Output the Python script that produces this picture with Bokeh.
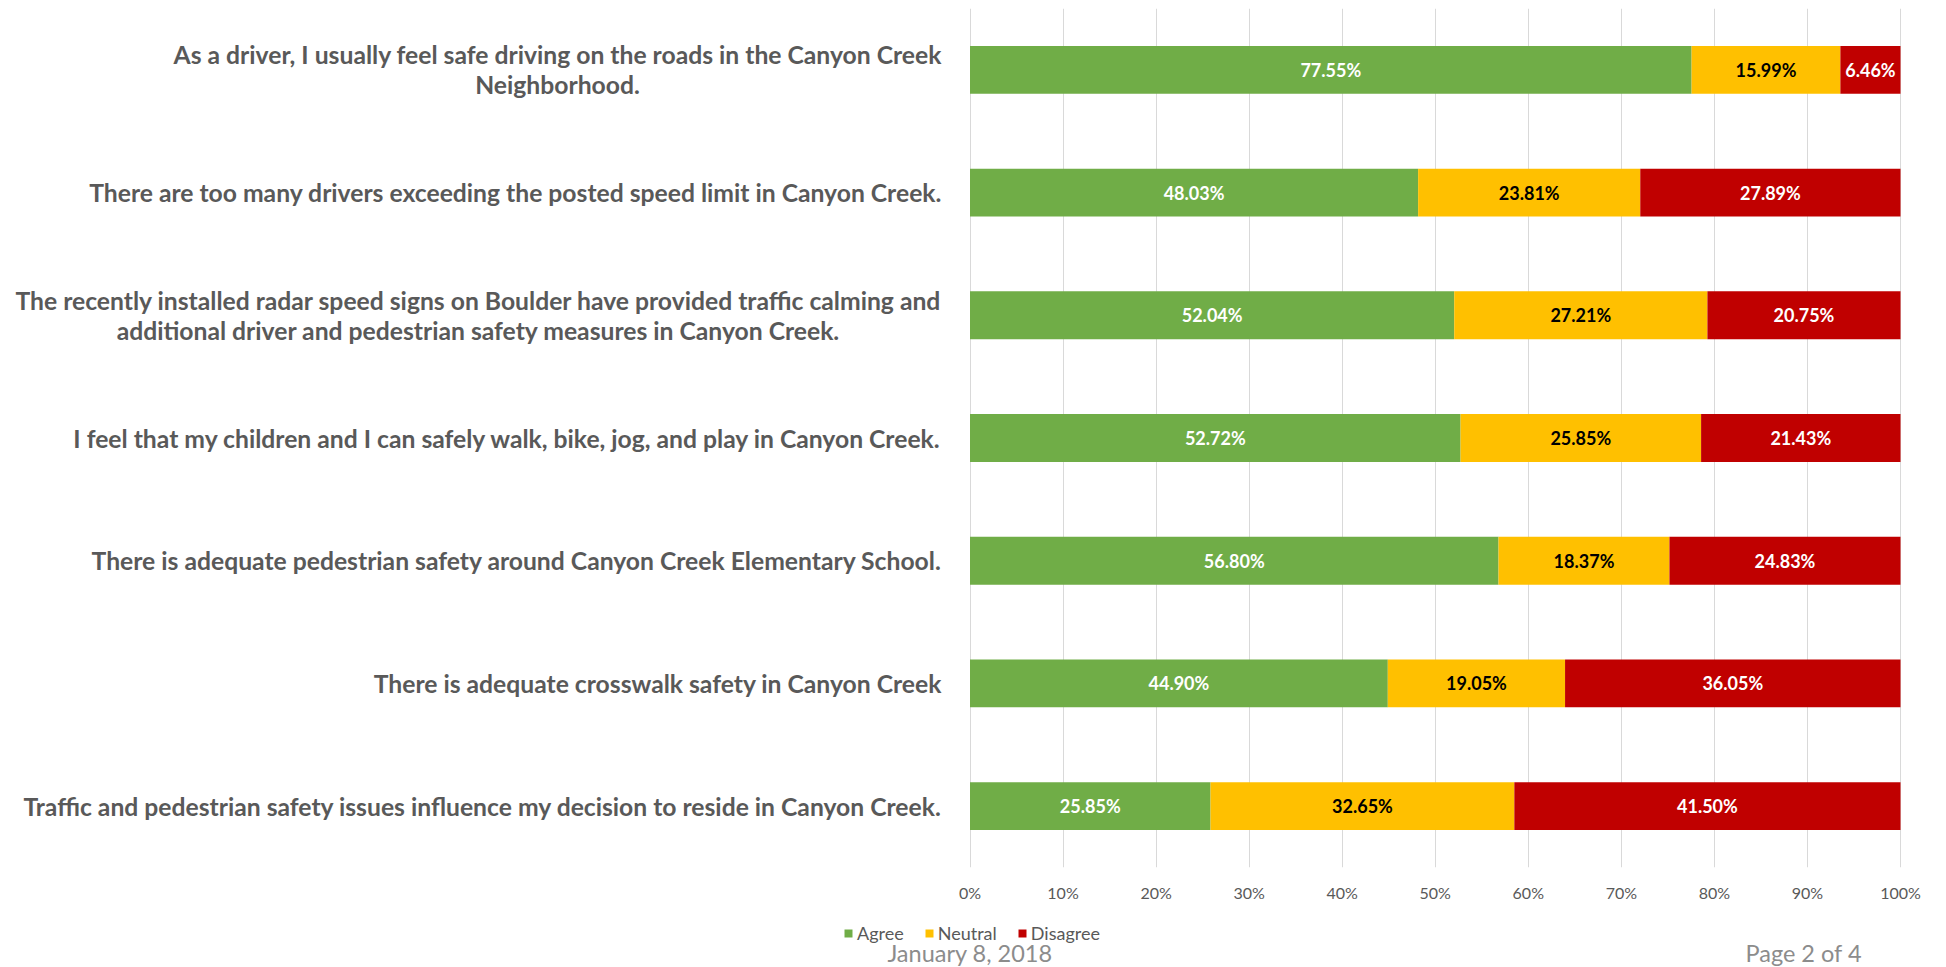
from bokeh.plotting import figure
from bokeh.layouts import column
from bokeh.models import (ColumnDataSource, FactorRange, Range1d, FixedTicker,
                          Legend, LegendItem, NumeralTickFormatter)
from bokeh.core.properties import value
from bokeh.embed import file_html
from bokeh.resources import INLINE

# ---------------- data ----------------
categories = [
    "As a driver, I usually feel safe driving on the roads in the Canyon Creek\nNeighborhood.",
    "There are too many drivers exceeding the posted speed limit in Canyon Creek.",
    "The recently installed radar speed signs on Boulder have provided traffic calming and\nadditional driver and pedestrian safety measures in Canyon Creek.",
    "I feel that my children and I can safely walk, bike, jog, and play in Canyon Creek.",
    "There is adequate pedestrian safety around Canyon Creek Elementary School.",
    "There is adequate crosswalk safety in Canyon Creek",
    "Traffic and pedestrian safety issues influence my decision to reside in Canyon Creek.",
]
agree = [77.55, 48.03, 52.04, 52.72, 56.80, 44.90, 25.85]
neutral = [15.99, 23.81, 27.21, 25.85, 18.37, 19.05, 32.65]
disagree = [6.46, 27.89, 20.75, 21.43, 24.83, 36.05, 41.50]
series_names = ["Agree", "Neutral", "Disagree"]
x_ticks = [i / 10 for i in range(11)]
footer_left = "January 8, 2018"
footer_right = "Page 2 of 4"

# ---------------- styles ----------------
colors = ["#70AD47", "#FFC000", "#C00000"]
label_colors = ["#FFFFFF", "#000000", "#FFFFFF"]
GRAY = "#595959"
FONT = "Lato"

# frame: x=0 at page 969.5, x=1 at page 1900 (930.5 px/unit); frame spans page 8..1938
X0_PAGE, PX_PER_UNIT = 969.5, 930.5
x_range = Range1d((8 - X0_PAGE) / PX_PER_UNIT, (1938 - X0_PAGE) / PX_PER_UNIT)

MAIN_H = 907
p = figure(width=1940, height=MAIN_H,
           y_range=FactorRange(factors=list(reversed(categories))),
           x_range=x_range, y_axis_location=None,
           output_backend="svg", toolbar_location=None,
           min_border_left=8, min_border_right=2, min_border_top=8,
           min_border_bottom=40)
p.outline_line_color = None
p.ygrid.visible = False
p.xgrid.ticker = FixedTicker(ticks=x_ticks)
p.xgrid.grid_line_color = "#D9D9D9"
p.xgrid.grid_line_width = 1

xa = p.xaxis[0]
xa.ticker = FixedTicker(ticks=x_ticks)
xa.formatter = NumeralTickFormatter(format="0%")
xa.axis_line_color = None
xa.major_tick_line_color = None
xa.minor_tick_line_color = None
xa.major_label_text_font = FONT
xa.major_label_text_font_size = "16px"
xa.major_label_text_color = GRAY
xa.major_label_standoff = 9

# normalized stacked positions (100% stacked)
rows = list(zip(agree, neutral, disagree))
tot = [sum(r) for r in rows]
src = dict(cat=categories)
series = [agree, neutral, disagree]
lefts = [0.0] * len(categories)
for k, vals in enumerate(series):
    l = list(lefts)
    r = [l[i] + vals[i] / tot[i] for i in range(len(vals))]
    src[f"l{k}"] = l
    src[f"r{k}"] = r
    src[f"m{k}"] = [(l[i] + r[i]) / 2 for i in range(len(vals))]
    src[f"t{k}"] = [f"{v:.2f}%" for v in vals]
    lefts = r
source = ColumnDataSource(src)

for k in range(3):
    p.hbar(y="cat", left=f"l{k}", right=f"r{k}", height=0.39, source=source,
           fill_color=colors[k], line_color=None)
    p.text(x=f"m{k}", y="cat", text=f"t{k}", source=source,
           text_align="center", text_baseline="middle",
           text_font=value(FONT), text_font_style="bold",
           text_font_size="18px", text_color=label_colors[k])

# question labels (left side); two-line labels centred under their first line
RIGHT_PAD = -28
line_w1 = {0: 769, 2: 927}  # approximate first-line widths in px
lab = dict(cat=[], txt=[], align=[], xo=[], yo=[])
for i, c in enumerate(categories):
    parts = c.split("\n")
    if len(parts) == 1:
        lab["cat"].append(c); lab["txt"].append(parts[0]); lab["align"].append("right")
        lab["xo"].append(RIGHT_PAD); lab["yo"].append(0)
    else:
        lab["cat"].append(c); lab["txt"].append(parts[0]); lab["align"].append("right")
        lab["xo"].append(RIGHT_PAD); lab["yo"].append(-15)
        lab["cat"].append(c); lab["txt"].append(parts[1]); lab["align"].append("center")
        lab["xo"].append(RIGHT_PAD - line_w1[i] / 2); lab["yo"].append(15)
lab["x"] = [0.0] * len(lab["cat"])
p.text(x="x", y="cat", text="txt", x_offset="xo", y_offset="yo", text_align="align",
       source=ColumnDataSource(lab), text_baseline="middle",
       text_font=value(FONT), text_font_style="bold", text_font_size="24.7px",
       text_color=GRAY)

# ---------------- footer strip: legend + page footer ----------------
FOOT_H = 60
f = figure(width=1940, height=FOOT_H, x_range=x_range,
           y_range=Range1d(0, FOOT_H), x_axis_location=None, y_axis_location=None,
           output_backend="svg", toolbar_location=None,
           min_border_left=8, min_border_right=2, min_border_top=0, min_border_bottom=0)
f.outline_line_color = None
f.grid.visible = False

# legend swatches: zero-size proxies placed below the strip's visible range
legend_rs = [f.hbar(y=[-FOOT_H], left=[0], right=[0], height=1,
                    fill_color=c, line_color=None) for c in colors]
legend = Legend(items=[LegendItem(label=n, renderers=[r]) for n, r in zip(series_names, legend_rs)],
                orientation="horizontal", location=(835, 23),
                label_text_font=FONT, label_text_font_size="18px", label_text_color=GRAY,
                glyph_width=10, glyph_height=10, label_standoff=4, spacing=20,
                padding=4, margin=0, border_line_color=None, background_fill_alpha=0,
                label_height=20)
f.add_layout(legend)

footer_src = ColumnDataSource(dict(x=[0.0, 0.896], y=[15, 15], t=[footer_left, footer_right]))
f.text(x="x", y="y", text="t", source=footer_src, text_align="center",
       text_baseline="middle", text_font=value(FONT), text_font_size="23.5px",
       text_color="#8C8C8C")

layout = column(p, f, spacing=0)
open("out.html", "w").write(file_html(layout, INLINE))
